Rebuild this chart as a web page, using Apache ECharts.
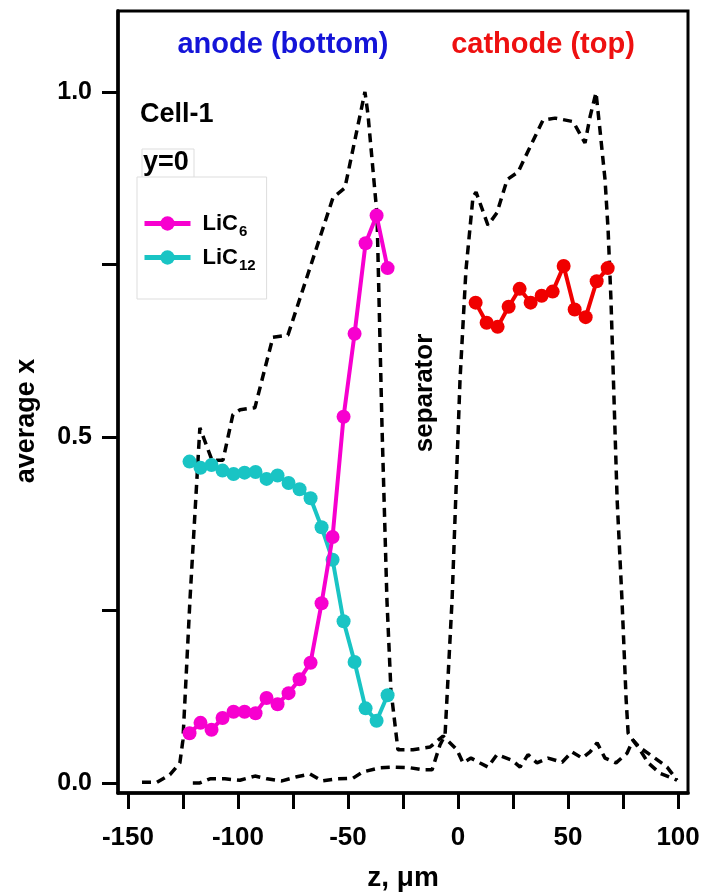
<!DOCTYPE html>
<html>
<head>
<meta charset="utf-8">
<script src="https://cdn.jsdelivr.net/npm/echarts@6/dist/echarts.min.js"></script>
<style>html,body{margin:0;padding:0;background:#fff;}#c{width:703px;height:894px;}</style>
</head>
<body>
<div id="c"></div>
<script>
// ---- data ----
const anodeZ = [-122,-117,-112,-107,-102,-97,-92,-87,-82,-77,-72,-67,-62,-57,-52,-47,-42,-37,-32];
const lic6 = [0.072,0.087,0.077,0.094,0.103,0.103,0.101,0.123,0.114,0.130,0.150,0.174,0.260,0.356,0.530,0.650,0.781,0.821,0.745];
const lic12 = [0.465,0.456,0.460,0.452,0.447,0.449,0.450,0.440,0.445,0.434,0.425,0.412,0.370,0.323,0.234,0.175,0.108,0.090,0.127];
const cathodeZ = [8,13,18,23,28,33,38,43,48,53,58,63,68];
const cathodeX = [0.695,0.666,0.660,0.689,0.715,0.695,0.705,0.711,0.748,0.685,0.674,0.726,0.745];
const anodeProfZ = [-143.6,-136.8,-130.9,-126.4,-125,-121.8,-117.3,-111.8,-106.8,-102.3,-99,-92.3,-84.1,-77.3,-56.8,-51.4,-42.3,-40.9,-36.8,-34.5,-32.3,-30.5,-27.3,-20.5,-12.7,-6.8,-0.5,2.3,5.9,10,13.6,17.7,24.5,28.2,31.8,35.9,40.9,47.3,51.8,56.4,60,63.2,66.8,71.8,76.8,79.5,82.7,86.4,91.8,99.5];
const anodeProfY = [0.001,0.001,0.012,0.029,0.062,0.265,0.514,0.467,0.467,0.533,0.540,0.543,0.645,0.648,0.847,0.861,1.0,0.967,0.822,0.511,0.265,0.135,0.048,0.048,0.052,0.068,0.048,0.029,0.036,0.029,0.023,0.041,0.033,0.023,0.041,0.029,0.036,0.030,0.045,0.036,0.045,0.058,0.036,0.029,0.043,0.062,0.048,0.029,0.014,0.004];
const cathodeProfZ = [-120.5,-117.3,-112.7,-105.9,-99.1,-92.3,-86.8,-80,-73.2,-67.3,-61.8,-55,-47.7,-43.2,-35.5,-29.5,-21.8,-15.9,-11.8,-8.2,-5.9,-2.7,0.9,3.6,6.8,8.2,13.6,17.7,22.3,27.3,32.7,38.6,44.1,52.3,57.7,60,62.7,64.5,66.8,68.2,69.5,70.9,72.3,74.5,76.4,77.3,79.5,82.7,88.6,95,99.5];
const cathodeProfY = [0.0,0.0,0.006,0.006,0.004,0.010,0.006,0.003,0.009,0.013,0.003,0.006,0.007,0.016,0.022,0.023,0.022,0.019,0.019,0.055,0.069,0.265,0.583,0.742,0.848,0.855,0.807,0.825,0.873,0.884,0.920,0.959,0.962,0.957,0.926,0.964,0.999,0.945,0.873,0.800,0.699,0.554,0.410,0.265,0.120,0.072,0.062,0.051,0.038,0.023,0.004];
const xTicks = [-150,-125,-100,-75,-50,-25,0,25,50,75,100];
const xLabels = [-150,-100,-50,0,50,100];
const yTicks = [0,0.25,0.5,0.75,1.0];
const yLabels = [0,0.5,1.0];

const zip = (a, b) => a.map((v, i) => [v, b[i]]);
const FF = '"Liberation Sans", Arial, sans-serif';
const chart = echarts.init(document.getElementById('c'));
const dash = {color:'#000', width:3.5, type:[9,6]};
chart.setOption({
  animation:false,
  backgroundColor:'#fff',
  grid:{left:118, right:15, top:11, bottom:101, show:true, borderColor:'#000', borderWidth:3,
        containLabel:false, outerBoundsMode:'none'},
  xAxis:{
    type:'value', min:-154.5, max:104.5,
    axisLine:{onZero:false, lineStyle:{color:'#000', width:3.5}},
    axisTick:{show:true, inside:false, length:16, lineStyle:{color:'#000', width:3}, customValues:xTicks},
    axisLabel:{customValues:xLabels, margin:32, fontSize:26, fontWeight:'bold', color:'#000', fontFamily:FF},
    splitLine:{show:false},
    name:'z, μm', nameLocation:'middle', nameGap:71,
    nameTextStyle:{fontSize:28, fontWeight:'bold', color:'#000', fontFamily:FF}
  },
  yAxis:{
    type:'value', min:-0.0145, max:1.117,
    axisLine:{show:true, onZero:false, lineStyle:{color:'#000', width:3.5}},
    axisTick:{show:true, inside:false, length:16, lineStyle:{color:'#000', width:3}, customValues:yTicks},
    axisLabel:{customValues:yLabels, margin:26, fontSize:25, fontWeight:'bold', color:'#000', fontFamily:FF,
      formatter:v => v.toFixed(1)},
    splitLine:{show:false},
    name:'average x', nameLocation:'middle', nameGap:78,
    nameTextStyle:{fontSize:27, fontWeight:'bold', color:'#000', fontFamily:FF, padding:[0,38,0,0]}
  },
  legend:{
    data:['LiC6','LiC12'], orient:'vertical', left:137, top:177,
    padding:[31,11,26,5], itemGap:3, itemWidth:46, itemHeight:18,
    borderColor:'#ddd', borderWidth:1, backgroundColor:'#fff',
    lineStyle:{width:5},
    formatter: n => n === 'LiC6' ? '{b|LiC}{s|6}' : '{b|LiC}{s|12}',
    textStyle:{rich:{
      b:{fontSize:22, fontWeight:'bold', color:'#000', fontFamily:FF, lineHeight:30, padding:[0,0,0,7]},
      s:{fontSize:15, fontWeight:'bold', color:'#000', fontFamily:FF, lineHeight:14, padding:[16,0,0,1]}
    }}
  },
  graphic:[
    {type:'text', x:283, y:45, style:{text:'anode (bottom)', fontSize:29, fontWeight:'bold', fontFamily:FF, fill:'#1414d8', align:'center', verticalAlign:'middle', textAlign:'center', textVerticalAlign:'middle'}},
    {type:'text', x:543, y:45, style:{text:'cathode (top)', fontSize:29, fontWeight:'bold', fontFamily:FF, fill:'#ee1010', align:'center', verticalAlign:'middle', textAlign:'center', textVerticalAlign:'middle'}},
    {type:'text', x:140, y:115, style:{text:'Cell-1', fontSize:27, fontWeight:'bold', fontFamily:FF, fill:'#000', align:'left', verticalAlign:'middle', textAlign:'left', textVerticalAlign:'middle'}},
    {type:'rect', shape:{x:142, y:149, width:52, height:29}, style:{fill:'#fff', stroke:'#ddd', lineWidth:1}},
    {type:'text', x:143, y:163, style:{text:'y=0', fontSize:27, fontWeight:'bold', fontFamily:FF, fill:'#000', align:'left', verticalAlign:'middle', textAlign:'left', textVerticalAlign:'middle'}},
    {type:'text', x:425, y:393, rotation:Math.PI/2, style:{text:'separator', fontSize:26, fontWeight:'bold', fontFamily:FF, fill:'#000', align:'center', verticalAlign:'middle', textAlign:'center', textVerticalAlign:'middle'}}
  ],
  series:[
    {type:'line', name:'anodeProfile', data:zip(anodeProfZ, anodeProfY), showSymbol:false, symbol:'none', lineStyle:dash, silent:true, z:1},
    {type:'line', name:'cathodeProfile', data:zip(cathodeProfZ, cathodeProfY), showSymbol:false, symbol:'none', lineStyle:dash, silent:true, z:1},
    {type:'line', name:'LiC12', data:zip(anodeZ, lic12), symbol:'circle', symbolSize:14, lineStyle:{color:'#19c4c4', width:4}, itemStyle:{color:'#19c4c4'}, z:2},
    {type:'line', name:'LiC6', data:zip(anodeZ, lic6), symbol:'circle', symbolSize:14, lineStyle:{color:'#f700cf', width:4}, itemStyle:{color:'#f700cf'}, z:3},
    {type:'line', name:'cathode', data:zip(cathodeZ, cathodeX), symbol:'circle', symbolSize:14, lineStyle:{color:'#f00000', width:4}, itemStyle:{color:'#f00000'}, z:3}
  ]
});
</script>
</body>
</html>
